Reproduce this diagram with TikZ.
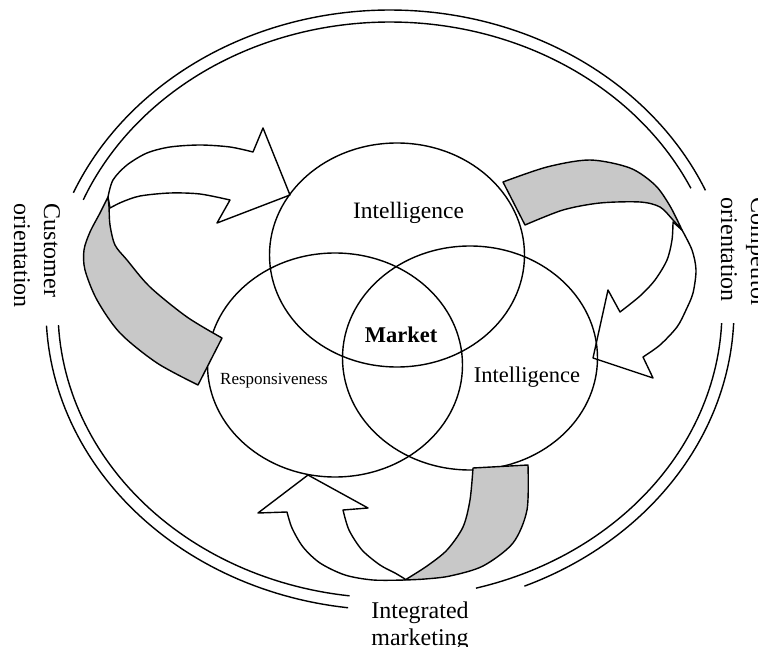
\documentclass[tikz,border=0pt]{standalone}
\usepackage{fontspec}
\setmainfont{Liberation Serif}
\usetikzlibrary{shapes.geometric}
\definecolor{bandgrey}{RGB}{200,200,200}
\begin{document}
\begin{tikzpicture}[x=1pt,y=-1pt,line width=1.4pt,line join=round,
  circ/.style={draw,ellipse,minimum width=255pt,minimum height=224pt,inner sep=0pt},
  band/.style={draw,fill=bandgrey},
  whitearrow/.style={draw,fill=white},
  ring/.style={draw},
  bigtxt/.style={inner sep=0pt,font=\fontsize{24}{29}\selectfont},
  sidetxt/.style={bigtxt,rotate=-90,anchor=base west}]
\useasboundingbox (0,0) rectangle (758,647);

% outer double ring (with gaps for the labels)
\draw[ring] plot[domain=2.5:67,samples=60] ({390+344*cos(\x)},{310+300*sin(\x)});
\draw[ring] plot[domain=97:177,samples=60] ({390+344*cos(\x)},{310+300*sin(\x)});
\draw[ring] plot[domain=203:336.5,samples=120] ({390+344*cos(\x)},{310+300*sin(\x)});
\draw[ring] plot[domain=2.6:75,samples=60] ({390+332*cos(\x)},{310+288*sin(\x)});
\draw[ring] plot[domain=97:177,samples=60] ({390+332*cos(\x)},{310+288*sin(\x)});
\draw[ring] plot[domain=202.5:335,samples=120] ({390+332*cos(\x)},{310+288*sin(\x)});

% white arrow bodies
\draw[whitearrow] plot[smooth] coordinates {(108,197) (113,180) (127,165) (147,153) (170,147) (200,145) (230,147) (253,152)}
  -- (263,128) -- (290,195) -- (217,223) -- (230,200)
  -- plot[smooth] coordinates {(230,200) (200,194) (170,193) (140,196) (122,202) (110,208)} -- cycle;
\draw[whitearrow] plot[smooth] coordinates {(682,230) (692,250) (696,270) (693,293) (686,310) (677,327) (660,345) (643,357)}
  -- (653,378) -- (593,358) -- (608,290) -- (620,312)
  -- plot[smooth] coordinates {(620,312) (640,296) (655,280) (667,260) (672,240) (673,222)} -- cycle;
\draw[whitearrow] plot[smooth] coordinates {(405,580) (373,580) (345,575) (320,563) (303,547) (292,528) (287,512)}
  -- (258,513) -- (308,475) -- (368,508) -- (343,510)
  -- plot[smooth] coordinates {(343,510) (349,530) (362,550) (380,565) (395,573) (405,579)} -- cycle;

% three circles
\node[circ] (top) at (397,255) {};
\node[circ] (left) at (335,365) {};
\node[circ] (right) at (470,358) {};

% grey twisted bands
\draw[band] plot[smooth] coordinates {(198,385) (157,363) (120,333) (97,300) (85,270) (84,250) (90,232) (100,213) (108,197)}
  -- plot[smooth] coordinates {(108,197) (109,207) (110,225) (115,245) (127,260) (150,287) (187,317) (222,338)} -- cycle;
\draw[band] plot[smooth] coordinates {(503,182) (547,167) (590,160) (630,168) (655,185) (670,206) (682,230)}
  -- plot[smooth] coordinates {(682,230) (673,220) (660,207) (640,202) (600,203) (563,210) (525,225)} -- cycle;
\draw[band] plot[smooth] coordinates {(528,465) (527,510) (513,543) (483,566) (450,576) (425,579) (405,580)}
  -- plot[smooth] coordinates {(405,580) (427,566) (447,550) (463,527) (470,500) (473,468)} -- cycle;

% labels
\node[inner sep=0pt,anchor=base,font=\fontsize{23.5}{28}\selectfont] (l1) at (408.5,219) {Intelligence};
\node[inner sep=0pt,anchor=base,font=\bfseries\fontsize{22.5}{27}\selectfont] (l2) at (401,342) {Market};
\node[inner sep=0pt,anchor=base,font=\fontsize{17}{20}\selectfont] (l3) at (274,384) {Responsiveness};
\node[inner sep=0pt,anchor=base,font=\fontsize{22.5}{27}\selectfont] (l4) at (527,382) {Intelligence};
\node[bigtxt,anchor=base] (l5) at (420,618) {Integrated};
\node[bigtxt,anchor=base] (l6) at (420,645) {marketing};
\node[sidetxt] (l7) at (44,203) {Customer};
\node[sidetxt] (l8) at (14,203) {orientation};
\node[sidetxt] (l9) at (751,197) {Competitor};
\node[sidetxt] (l10) at (721,197) {orientation};
\end{tikzpicture}
\end{document}
